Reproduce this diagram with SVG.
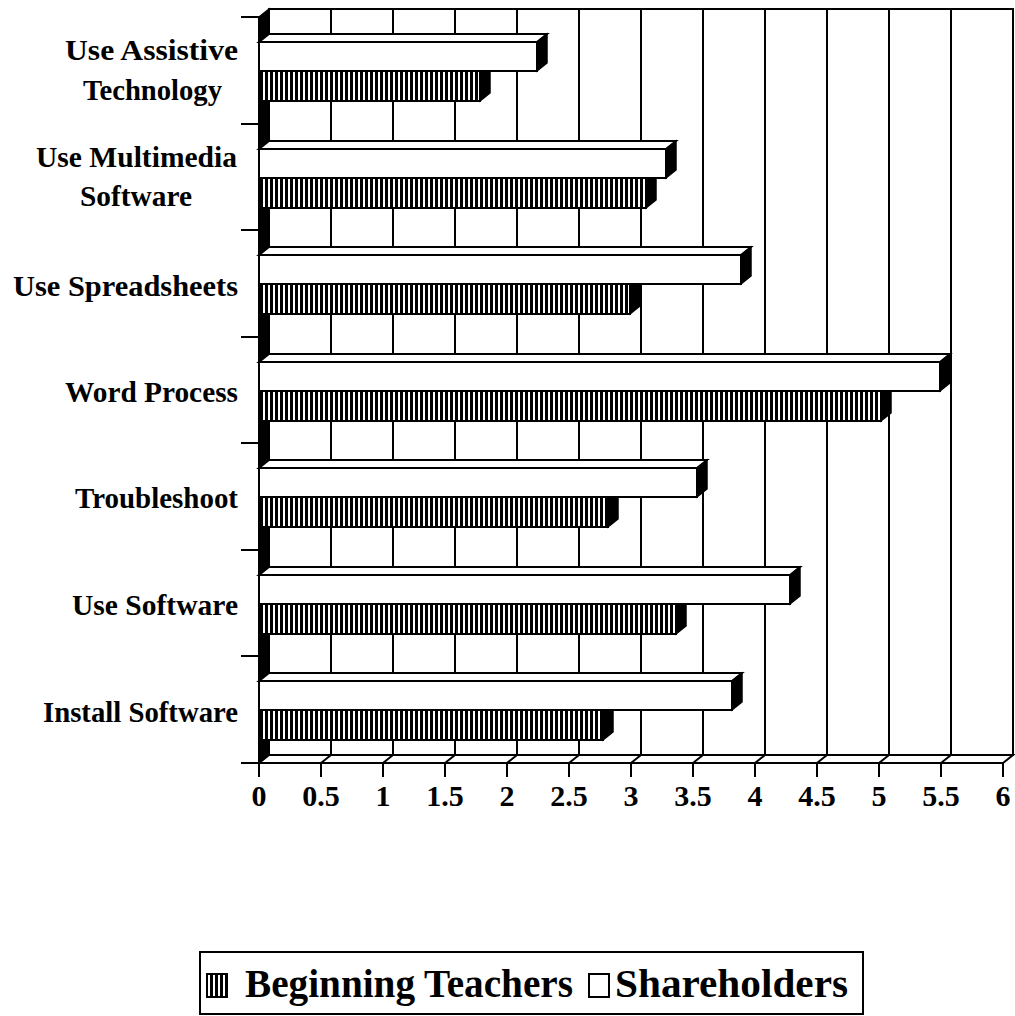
<svg xmlns="http://www.w3.org/2000/svg" width="1015" height="1016" viewBox="0 0 1015 1016">
<defs>
<pattern id="hatch" patternUnits="userSpaceOnUse" width="5" height="10">
<rect width="5" height="10" fill="#fff"/>
<rect width="3" height="10" fill="#000"/>
</pattern>
</defs>
<style>
.ln{stroke:#000;stroke-width:2;fill:none}
.wall{fill:#fff;stroke:#000;stroke-width:2}
.dark{fill:#000;stroke:#000;stroke-width:1.5}
.wf{fill:#fff;stroke:#000;stroke-width:2}
.hf{fill:url(#hatch);stroke:#000;stroke-width:2}
.lab{font-family:"Liberation Serif","Times New Roman",serif;font-weight:bold;font-size:30px;fill:#000}
.num{font-family:"Liberation Serif","Times New Roman",serif;font-weight:bold;font-size:30px;fill:#000}
.leg{font-family:"Liberation Serif","Times New Roman",serif;font-weight:bold;font-size:40px;fill:#000}
</style>
<rect width="1015" height="1016" fill="#fff"/>

<g id="walls">
<rect class="wall" x="269" y="9" width="744" height="746"/>
<g class="ln">
<path d="M331 9V755M393 9V755M455 9V755M517 9V755M579 9V755M641 9V755M703 9V755M765 9V755M827 9V755M889 9V755M951 9V755"/>
</g>
<polygon class="wall" points="259,763 269,755 1013,755 1003,763"/>
<path class="ln" d="M321 763L331 755M383 763L393 755M445 763L455 755M507 763L517 755M569 763L579 755M631 763L641 755M693 763L703 755M755 763L765 755M817 763L827 755M879 763L889 755M941 763L951 755"/>
<polygon class="dark" points="259,17 269,9 269,755 259,763"/>
</g>

<g id="axes">
<path class="ln" d="M241 763H1003" stroke-width="2.5"/>
<path class="ln" d="M259 17V763"/>
<path class="ln" d="M241 17H259M241 124H259M241 230H259M241 337H259M241 443H259M241 550H259M241 656H259"/>
<path class="ln" d="M259 763V777M321 763V777M383 763V777M445 763V777M507 763V777M569 763V777M631 763V777M693 763V777M755 763V777M817 763V777M879 763V777M941 763V777M1003 763V777"/>
</g>

<g id="bars">
<g id="cat-assistive">
<rect class="hf" x="259" y="71" width="221" height="30"/>
<polygon class="dark" points="480,71 490,63 490,93 480,101"/>
<polygon class="wf" points="259,42 269,34 547,34 537,42"/>
<rect class="wf" x="259" y="42" width="278" height="29"/>
<polygon class="dark" points="537,42 547,34 547,63 537,71"/>
</g>
<g id="cat-multimedia">
<rect class="hf" x="259" y="178" width="387" height="30"/>
<polygon class="dark" points="646,178 656,170 656,200 646,208"/>
<polygon class="wf" points="259,149 269,141 676,141 666,149"/>
<rect class="wf" x="259" y="149" width="407" height="29"/>
<polygon class="dark" points="666,149 676,141 676,170 666,178"/>
</g>
<g id="cat-spreadsheets">
<rect class="hf" x="259" y="284" width="371" height="30"/>
<polygon class="dark" points="630,284 640,276 640,306 630,314"/>
<polygon class="wf" points="259,255 269,247 751,247 741,255"/>
<rect class="wf" x="259" y="255" width="482" height="29"/>
<polygon class="dark" points="741,255 751,247 751,276 741,284"/>
</g>
<g id="cat-word">
<rect class="hf" x="259" y="391" width="622" height="30"/>
<polygon class="dark" points="881,391 891,383 891,413 881,421"/>
<polygon class="wf" points="259,362 269,354 950,354 940,362"/>
<rect class="wf" x="259" y="362" width="681" height="29"/>
<polygon class="dark" points="940,362 950,354 950,383 940,391"/>
</g>
<g id="cat-troubleshoot">
<rect class="hf" x="259" y="497" width="349" height="30"/>
<polygon class="dark" points="608,497 618,489 618,519 608,527"/>
<polygon class="wf" points="259,468 269,460 707,460 697,468"/>
<rect class="wf" x="259" y="468" width="438" height="29"/>
<polygon class="dark" points="697,468 707,460 707,489 697,497"/>
</g>
<g id="cat-usesoftware">
<rect class="hf" x="259" y="604" width="417" height="30"/>
<polygon class="dark" points="676,604 686,596 686,626 676,634"/>
<polygon class="wf" points="259,575 269,567 800,567 790,575"/>
<rect class="wf" x="259" y="575" width="531" height="29"/>
<polygon class="dark" points="790,575 800,567 800,596 790,604"/>
</g>
<g id="cat-install">
<rect class="hf" x="259" y="710" width="344" height="30"/>
<polygon class="dark" points="603,710 613,702 613,732 603,740"/>
<polygon class="wf" points="259,681 269,673 742,673 732,681"/>
<rect class="wf" x="259" y="681" width="473" height="29"/>
<polygon class="dark" points="732,681 742,673 742,702 732,710"/>
</g>
</g>

<g id="category-labels">
<text class="lab" x="65" y="60" textLength="173" lengthAdjust="spacingAndGlyphs">Use Assistive</text>
<text class="lab" x="83" y="100" textLength="139" lengthAdjust="spacingAndGlyphs">Technology</text>
<text class="lab" x="36" y="167" textLength="201" lengthAdjust="spacingAndGlyphs">Use Multimedia</text>
<text class="lab" x="80" y="206" textLength="112" lengthAdjust="spacingAndGlyphs">Software</text>
<text class="lab" x="13" y="296" textLength="225" lengthAdjust="spacingAndGlyphs">Use Spreadsheets</text>
<text class="lab" x="65" y="402" textLength="173" lengthAdjust="spacingAndGlyphs">Word Process</text>
<text class="lab" x="75" y="508" textLength="163" lengthAdjust="spacingAndGlyphs">Troubleshoot</text>
<text class="lab" x="72" y="615" textLength="166" lengthAdjust="spacingAndGlyphs">Use Software</text>
<text class="lab" x="43" y="722" textLength="195" lengthAdjust="spacingAndGlyphs">Install Software</text>
</g>

<g id="value-labels" text-anchor="middle">
<text class="num" x="259" y="806">0</text>
<text class="num" x="321" y="806">0.5</text>
<text class="num" x="383" y="806">1</text>
<text class="num" x="445" y="806">1.5</text>
<text class="num" x="507" y="806">2</text>
<text class="num" x="569" y="806">2.5</text>
<text class="num" x="631" y="806">3</text>
<text class="num" x="693" y="806">3.5</text>
<text class="num" x="755" y="806">4</text>
<text class="num" x="817" y="806">4.5</text>
<text class="num" x="879" y="806">5</text>
<text class="num" x="941" y="806">5.5</text>
<text class="num" x="1003" y="806">6</text>
</g>

<g id="legend">
<rect x="200" y="952" width="663" height="62" fill="#fff" stroke="#000" stroke-width="2"/>
<rect class="hf" x="207" y="974" width="20" height="23"/>
<text class="leg" x="245" y="997" textLength="328" lengthAdjust="spacingAndGlyphs">Beginning Teachers</text>
<rect class="wf" x="589" y="974" width="20" height="23"/>
<text class="leg" x="615" y="997" textLength="233" lengthAdjust="spacingAndGlyphs">Shareholders</text>
</g>
</svg>
